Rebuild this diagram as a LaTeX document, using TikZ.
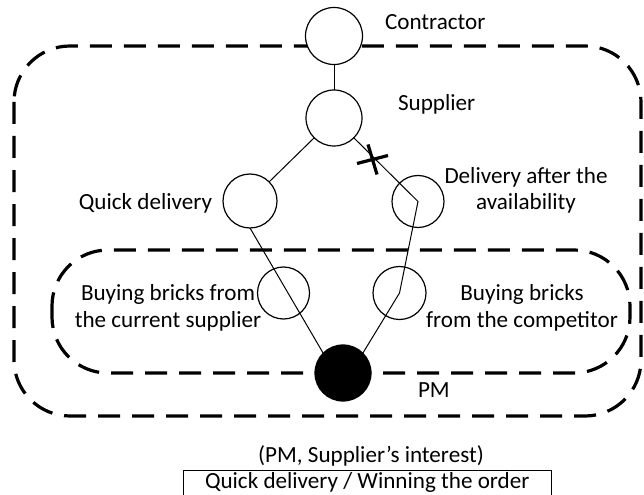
\documentclass[tikz,border=0pt]{standalone}
\usepackage{fontspec}
\setmainfont{Carlito}
\begin{document}
\begin{tikzpicture}[x=0.5bp,y=-0.5bp,
  every node/.style={inner sep=0pt, outer sep=0pt},
  state/.style={circle, draw, fill=white, line width=0.6bp, minimum size=#1},
  lbl/.style={font=\fontsize{11.6}{13.5}\selectfont, anchor=base, align=center},
  link/.style={line width=0.5bp},
  region/.style={draw, line width=1.6bp, dash pattern=on 11bp off 6bp, rounded corners=28bp},
  cut/.style={line width=1.6bp}
]
\useasboundingbox (0,0) rectangle (644,495);
\clip (0,0) rectangle (644,495);

% dashed groupings
\draw[region] (14,46) rectangle (641,416);
\draw[region] (52,250) rectangle (630,373);

% actors and options
\node[state=28.5bp] (con) at (334,36) {};
\node[state=28bp] (sup) at (334,118) {};
\node[state=27bp] (quick) at (250,201) {};
\node[state=26bp] (avail) at (418,201.5) {};
\node[state=26bp] (cur) at (283.5,293) {};
\node[state=26.5bp] (comp) at (399.5,293) {};
\node[state=28bp, fill=black] (pm) at (343,373) {};

% links
\draw[link] (con) -- (sup);
\draw[link] (sup.225) -- (quick.45);
\draw[link] (quick.south) -- (pm.135);
\draw[link] (sup.-45) -- (avail.center) -- (comp.center) -- (pm.45);

% blocked link
\coordinate (blk) at (372.5,159.5);
\draw[cut] (blk) ++(-15.5,4) -- ++(31,-8);
\draw[cut] (blk) ++(-4.5,-15) -- ++(9,30);

% labels (multi-line labels are placed by their last baseline)
\node[lbl, anchor=base west] (tcon) at (385,30) {Contractor};
\node[lbl, anchor=base west] (tsup) at (398,111) {Supplier};
\node[lbl, anchor=base east] (tquick) at (212,210) {Quick delivery};
\node[lbl] (tavail) at (526,210) {Delivery after the\\availability};
\node[lbl] (tcur) at (168,327) {Buying bricks from\\the current supplier};
\node[lbl] (tcomp) at (522,327) {Buying bricks\\from the competitor};
\node[lbl, anchor=base west] (tpm) at (418,397) {PM};
\node[lbl] (tint) at (371,462) {(PM, Supplier’s interest)};
\node[lbl, anchor=base west, draw, line width=0.5bp, text height=8bp, text depth=6bp,
      inner xsep=11bp, inner ysep=1bp] (tbox) at (183,488) {Quick delivery / Winning the order};
\end{tikzpicture}
\end{document}
